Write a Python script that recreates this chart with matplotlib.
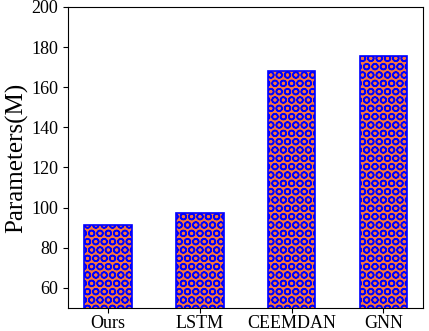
import matplotlib
matplotlib.use("Agg")
import matplotlib.pyplot as plt

plt.rcParams['font.family'] = ['Liberation Serif', 'DejaVu Serif']
plt.rcParams['hatch.linewidth'] = 1.1

models = ["Ours", "LSTM", "CEEMDAN", "GNN"]
params = [91.5, 97.5, 168, 175.5]

fig = plt.figure(figsize=(4.29, 3.31), dpi=100)
ax = fig.add_axes([0.159, 0.07, 0.827, 0.909])

ax.bar(range(len(models)), params, width=0.52, color='#f4743f',
       edgecolor='blue', hatch='OO', linewidth=1.2)

ax.set_ylim(50, 200)
ax.set_xlim(-0.43, 3.43)
ax.set_xticks(range(len(models)))
ax.set_xticklabels(models)
ax.set_yticks(range(60, 201, 20))
ax.tick_params(labelsize=13)
ax.tick_params(axis='x', pad=2)
ax.set_ylabel("Parameters(M)", fontsize=18, labelpad=2)

fig.savefig("out.png", dpi=100)
